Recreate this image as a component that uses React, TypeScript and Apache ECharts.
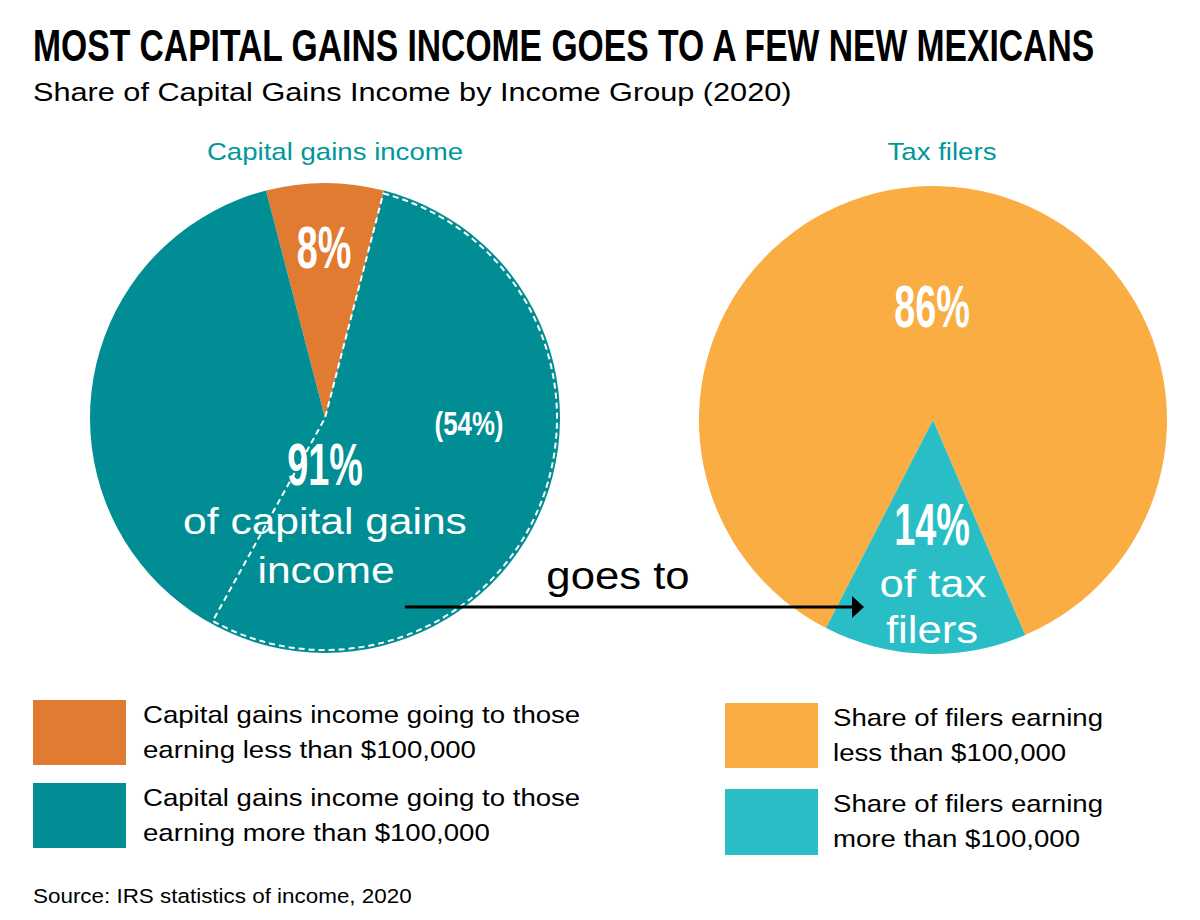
import React, { useEffect, useRef } from "react";
import * as echarts from "echarts";

// ---- data ----
const chartTitle = "MOST CAPITAL GAINS INCOME GOES TO A FEW NEW MEXICANS";
const chartSubtitle = "Share of Capital Gains Income by Income Group (2020)";
const sourceNote = "Source: IRS statistics of income, 2020";

const gainsPieTitle = "Capital gains income";
const gainsGroups = [
  "Capital gains income going to those\nearning less than $100,000",
  "Capital gains income going to those\nearning more than $100,000",
];
const gainsShare = [8, 91];
const gainsColors = ["#E27B32", "#008E94"];
const gainsSubShare = 54; // dashed outline share

const filersPieTitle = "Tax filers";
const filerGroups = [
  "Share of filers earning\nless than $100,000",
  "Share of filers earning\nmore than $100,000",
];
const filerShare = [86, 14];
const filerColors = ["#F9AD42", "#29BDC6"];

const FONT = '"Liberation Sans", Arial, Helvetica, sans-serif';
const WIDE = 1.15; // horizontal stretch of the regular text
const NARROW = 0.63; // horizontal squeeze of the bold numbers

function txt(
  x: number,
  y: number,
  text: string,
  size: number,
  opts: { color?: string; weight?: string | number; align?: string; sx?: number; lh?: number } = {}
) {
  return {
    type: "text",
    x,
    y,
    z: 100,
    scaleX: opts.sx ?? WIDE,
    silent: true,
    style: {
      text,
      x: 0,
      y: 0,
      fill: opts.color ?? "#000",
      fontSize: size,
      fontFamily: FONT,
      fontWeight: opts.weight ?? "normal",
      align: opts.align ?? "left",
      verticalAlign: "middle",
      lineHeight: opts.lh ?? size * 1.2,
    },
  };
}

export default function App() {
  const ref = useRef<HTMLDivElement>(null);

  useEffect(() => {
    if (!ref.current) return;
    const chart = echarts.init(ref.current, null, { renderer: "svg" });

    const gSum = gainsShare.reduce((a, b) => a + b, 0);
    const orangeAngle = (gainsShare[0] / gSum) * 360;
    const leftStart = 90 + orangeAngle / 2;
    const fSum = filerShare.reduce((a, b) => a + b, 0);
    const rightStart =
      -90 + (filerShare[0] / fSum) * 360 + ((filerShare[1] / fSum) * 360) / 2 - 2;

    const pct = (v: number) => `${v}%`;

    const legendItems = [
      { x: 33, y: 700, h: 65, color: gainsColors[0], text: gainsGroups[0], tx: 143, ty: 732 },
      { x: 33, y: 783, h: 65, color: gainsColors[1], text: gainsGroups[1], tx: 143, ty: 815 },
      { x: 725, y: 703, h: 65, color: filerColors[0], text: filerGroups[0], tx: 833, ty: 735 },
      { x: 725, y: 789, h: 66, color: filerColors[1], text: filerGroups[1], tx: 833, ty: 821 },
    ];

    chart.setOption({
      animation: false,
      backgroundColor: "#ffffff",
      series: [
        {
          type: "pie",
          center: [325, 418],
          radius: 235,
          startAngle: leftStart,
          clockwise: true,
          silent: true,
          z: 1,
          label: { show: false },
          labelLine: { show: false },
          emphasis: { disabled: true },
          itemStyle: { borderWidth: 0 },
          data: gainsGroups.map((name, i) => ({
            name,
            value: gainsShare[i],
            itemStyle: { color: gainsColors[i], borderWidth: 0 },
          })),
        },
        {
          type: "pie",
          center: [325, 418],
          radius: 232,
          startAngle: leftStart - orangeAngle,
          clockwise: true,
          silent: true,
          z: 2,
          label: { show: false },
          labelLine: { show: false },
          emphasis: { disabled: true },
          data: [
            {
              name: "subshare",
              value: gainsSubShare,
              itemStyle: {
                color: "rgba(0,0,0,0)",
                borderColor: "#ffffff",
                borderWidth: 2,
                borderType: [6, 4],
              },
            },
            {
              name: "rest",
              value: 100 - gainsSubShare,
              itemStyle: { color: "rgba(0,0,0,0)", borderWidth: 0 },
            },
          ],
        },
        {
          type: "pie",
          center: [933, 420],
          radius: 234,
          startAngle: rightStart,
          clockwise: true,
          silent: true,
          z: 1,
          label: { show: false },
          labelLine: { show: false },
          emphasis: { disabled: true },
          itemStyle: { borderWidth: 0 },
          data: filerGroups.map((name, i) => ({
            name,
            value: filerShare[i],
            itemStyle: { color: filerColors[i], borderWidth: 0 },
          })),
        },
      ],
      graphic: {
        elements: [
          txt(33, 46, chartTitle, 44, { weight: "bold", sx: 0.765 }),
          txt(33, 92, chartSubtitle, 26, { sx: 1.18 }),
          txt(335, 152, gainsPieTitle, 24, { color: "#00979C", align: "center" }),
          txt(942, 152, filersPieTitle, 24, { color: "#00979C", align: "center" }),
          // left pie annotations
          txt(324, 248, pct(gainsShare[0]), 60, { color: "#fff", weight: "bold", align: "center", sx: NARROW }),
          txt(469, 423, `(${pct(gainsSubShare)})`, 34, { color: "#fff", weight: "bold", align: "center", sx: 0.76 }),
          txt(325, 465, pct(gainsShare[1]), 60, { color: "#fff", weight: "bold", align: "center", sx: NARROW }),
          txt(325, 521, "of capital gains", 37, { color: "#fff", align: "center" }),
          txt(326, 570, "income", 37, { color: "#fff", align: "center" }),
          // right pie annotations
          txt(932, 307, pct(filerShare[0]), 60, { color: "#fff", weight: "bold", align: "center", sx: NARROW }),
          txt(932, 525, pct(filerShare[1]), 60, { color: "#fff", weight: "bold", align: "center", sx: NARROW }),
          txt(933, 584, "of tax", 38, { color: "#fff", align: "center" }),
          txt(932, 630, "filers", 38, { color: "#fff", align: "center" }),
          // arrow
          txt(618, 576, "goes to", 38, { align: "center" }),
          {
            type: "line",
            silent: true,
            z: 100,
            shape: { x1: 405, y1: 607, x2: 854, y2: 607 },
            style: { stroke: "#000", lineWidth: 3 },
          },
          {
            type: "polygon",
            silent: true,
            z: 100,
            shape: { points: [[852, 596], [864, 607], [852, 618]] },
            style: { fill: "#000" },
          },
          // legends
          ...legendItems.flatMap((it) => [
            {
              type: "rect",
              silent: true,
              z: 100,
              shape: { x: it.x, y: it.y, width: 93, height: it.h },
              style: { fill: it.color },
            },
            txt(it.tx, it.ty, it.text, 24, { lh: 35 }),
          ]),
          txt(33, 896, sourceNote, 19.5),
        ],
      },
    });

    return () => chart.dispose();
  }, []);

  return (
    <div
      ref={ref}
      style={{ position: "fixed", left: 0, top: 0, width: 1200, height: 920, background: "#fff" }}
    />
  );
}
